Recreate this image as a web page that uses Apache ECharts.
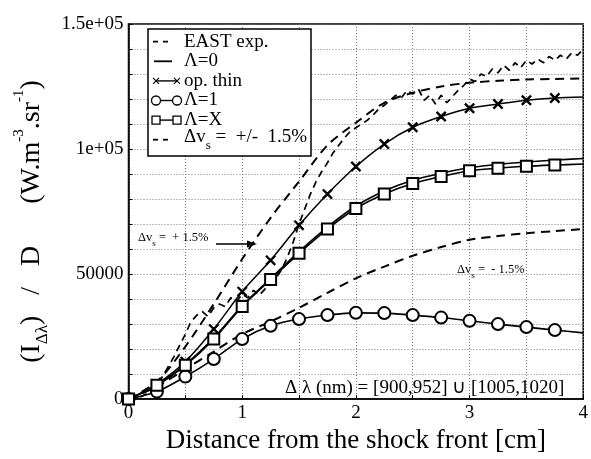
<!DOCTYPE html>
<html><head><meta charset="utf-8">
<script src="https://cdn.jsdelivr.net/npm/echarts@6/dist/echarts.min.js"></script>
<style>html,body{margin:0;padding:0;background:#fff}#c{width:591px;height:459px}</style>
</head><body><div id="c"></div>
<script>
// ---- data ----
const modelX   = [0,0.25,0.5,0.75,1,1.25,1.5,1.75,2,2.25,2.5,2.75,3,3.25,3.5,3.75,4];
const lambda0  = [0,5500,13800,24500,37300,48200,59000,68800,77200,83200,87500,90300,92500,93900,94800,95600,96200];
const opThin   = [0,6000,15000,28000,43000,55500,69500,82000,93000,102000,108700,113000,116300,118000,119500,120400,120800];
const lambda1  = [0,3000,9000,16000,24000,29300,32000,33600,34500,34400,33600,32600,31300,30000,28800,27600,26500];
const lambdaX  = [0,5500,13500,24000,37000,47800,58300,68000,76200,82000,86200,89000,91300,92300,93100,93600,94000];
const dvPlus   = [0,7000,21000,38000,56000,72500,87000,101500,110500,118500,122500,125000,126500,127300,127800,128000,128200];
const dvMinus  = [0,5000,12000,19000,26000,31000,36500,42500,48300,53000,57300,60800,63700,65200,66300,67200,68000];
const eastX = [0,0.1,0.2,0.3,0.4,0.5,0.55,0.6,0.65,0.7,0.75,0.8,0.85,0.9,0.95,1.0,1.05,1.1,1.15,1.2,1.25,1.3,1.35,1.4,1.45,1.5,1.55,1.6,1.65,1.7,1.75,1.8,1.85,1.9,1.95,2.0,2.05,2.1,2.15,2.2,2.25,2.3,2.35,2.4,2.45,2.5,2.55,2.6,2.65,2.7,2.75,2.8,2.85,2.9,2.95,3.0,3.05,3.1,3.15,3.2,3.25,3.3,3.35,3.4,3.45,3.5,3.55,3.6,3.65,3.7,3.75,3.8,3.85,3.9,3.95,4.0];
const eastY = [0,800,3000,9000,17000,26000,31000,33500,35000,33000,36500,38000,37000,40500,39000,42000,40500,43500,41500,44000,46500,48500,52000,57000,63000,70000,76000,82000,87000,91000,94500,98500,101500,104500,107000,108500,110000,111500,113500,116000,117500,119500,121500,120500,123500,122000,124000,119500,121500,118000,121500,118500,121000,123500,125500,128000,127000,130000,129000,132000,130500,133500,131500,134500,132500,135500,134000,136000,134500,137000,135500,137500,136000,138500,137500,140000];
const xTickLabels = {0:'0',1:'1',2:'2',3:'3',4:'4'};
const yTickLabels = {0:'0',50000:'50000',100000:'1e+05',150000:'1.5e+05'};

const SERIF = 'Liberation Serif';
const XSYM = 'path://M0,0.8L0.8,0L5,4.2L9.2,0L10,0.8L5.8,5L10,9.2L9.2,10L5,5.8L0.8,10L0,9.2L4.2,5Z';

function pts(xs, ys, lastNoSymbol) {
  return xs.map((x, i) => {
    const d = {value: [x, ys[i]]};
    if (lastNoSymbol && i === xs.length - 1) d.symbol = 'none';
    return d;
  });
}
const black = '#000';
function lineSeries(name, xs, ys, opts) {
  return {
    name, type: 'line', data: pts(xs, ys, opts.markers), smooth: opts.smooth === undefined ? 0.3 : opts.smooth,
    symbol: opts.symbol || 'none', symbolSize: opts.symbolSize || 0, showSymbol: !!opts.symbol,
    lineStyle: {color: black, width: opts.width || 1.6, type: opts.dash || 'solid'},
    itemStyle: {color: black, borderColor: black, borderWidth: 1.3},
    silent: true, animation: false, z: opts.z || 2
  };
}

const chart = echarts.init(document.getElementById('c'), null, {renderer: 'canvas'});

const sub = {fontFamily: SERIF, fontSize: 17, color: black, verticalAlign: 'bottom', padding: [0,0,1,0]};
const sup = {fontFamily: SERIF, fontSize: 15, color: black, verticalAlign: 'bottom', padding: [0,0,25,0]};
const main = {fontFamily: SERIF, fontSize: 28, color: black, verticalAlign: 'bottom', padding: [0,0,6,0]};

// legend (drawn as graphics)
const legendTop = 41.7, legendStep = 19.6, iconL = 153, iconR = 180, textX = 184;
const legendItems = [
  {label: 'EAST exp.', kind: 'dash'},
  {label: 'Λ=0', kind: 'solid'},
  {label: 'op. thin', kind: 'cross'},
  {label: 'Λ=1', kind: 'circle'},
  {label: 'Λ=X', kind: 'rect'},
  {label: '{a|Δv}{s|s}{a| =  +/-  1.5%}', kind: 'dash'}
];
const legendGraphics = [{type: 'rect', shape: {x: 148, y: 29, width: 163, height: 127}, style: {fill: '#fff', stroke: black, lineWidth: 1.5}, z: 100}];
legendItems.forEach((it, i) => {
  const y = legendTop + i * legendStep;
  if (it.kind === 'dash') {
    legendGraphics.push({type: 'line', shape: {x1: 153, y1: y, x2: 169, y2: y}, style: {stroke: black, lineWidth: 1.8, lineDash: [5, 5]}, z: 101});
  } else if (it.kind === 'solid') {
    legendGraphics.push({type: 'line', shape: {x1: 154, y1: y, x2: 172, y2: y}, style: {stroke: black, lineWidth: 1.8}, z: 101});
  } else {
    legendGraphics.push({type: 'line', shape: {x1: iconL + 3, y1: y, x2: iconR - 3, y2: y}, style: {stroke: black, lineWidth: 1.4}, z: 101});
    [iconL + 3, iconR - 3].forEach(cx => {
      if (it.kind === 'cross') {
        legendGraphics.push({type: 'line', shape: {x1: cx - 3, y1: y - 3, x2: cx + 3, y2: y + 3}, style: {stroke: black, lineWidth: 1.1}, z: 102});
        legendGraphics.push({type: 'line', shape: {x1: cx - 3, y1: y + 3, x2: cx + 3, y2: y - 3}, style: {stroke: black, lineWidth: 1.1}, z: 102});
      } else if (it.kind === 'circle') {
        legendGraphics.push({type: 'circle', shape: {cx, cy: y, r: 4.5}, style: {fill: '#fff', stroke: black, lineWidth: 1.3}, z: 102});
      } else {
        legendGraphics.push({type: 'rect', shape: {x: cx - 4, y: y - 4, width: 8, height: 8}, style: {fill: '#fff', stroke: black, lineWidth: 1.3}, z: 102});
      }
    });
  }
  legendGraphics.push({type: 'text', x: textX, y: y, z: 101, style: {
    text: it.label, fill: black, font: '19px ' + SERIF, fontFamily: SERIF, fontSize: 19, verticalAlign: 'middle', align: 'left',
    rich: {a: {fontFamily: SERIF, fontSize: 19, color: black, verticalAlign: 'bottom', padding: [0,0,5,0]},
           s: {fontFamily: SERIF, fontSize: 13, color: black, verticalAlign: 'bottom', padding: [0,0,0,0]}}
  }});
});

const annoRich = {
  a: {fontFamily: SERIF, fontSize: 12.5, color: black, verticalAlign: 'bottom', padding: [0,0,4,0]},
  s: {fontFamily: SERIF, fontSize: 9, color: black, verticalAlign: 'bottom', padding: [0,0,0,0]}
};
const annotations = [
  {type: 'text', x: 138, y: 240, z: 50, style: {text: '{a|Δv}{s|s}{a| =  + 1.5%}', rich: annoRich, verticalAlign: 'middle', align: 'left'}},
  {type: 'line', shape: {x1: 216, y1: 244, x2: 250, y2: 244}, style: {stroke: black, lineWidth: 1.5}, z: 50},
  {type: 'polygon', shape: {points: [[257, 244], [247, 240.5], [247, 247.5]]}, style: {fill: black}, z: 50},
  {type: 'text', x: 457, y: 272, z: 50, style: {text: '{a|Δv}{s|s}{a| =  - 1.5%}', rich: annoRich, verticalAlign: 'middle', align: 'left'}},
  {type: 'text', x: 285, y: 388, z: 50, style: {text: 'Δ λ (nm) = [900,952] ∪ [1005,1020]', fill: black, font: '19px ' + SERIF, fontFamily: SERIF, fontSize: 19, verticalAlign: 'middle', align: 'left'}}
];

const gridLine = {show: true, lineStyle: {color: '#777', width: 1, type: [1, 2]}};

chart.setOption({
  backgroundColor: '#fff',
  animation: false,
  grid: {left: 128.5, right: 4, top: 24, bottom: 45, show: true, borderColor: black, borderWidth: 1.5, backgroundColor: 'transparent'},
  xAxis: {
    type: 'value', min: 0, max: 4, interval: 0.5,
    axisLine: {show: true, onZero: false, lineStyle: {color: black, width: 1.5}},
    axisTick: {show: true, inside: true, length: 4, lineStyle: {color: black}},
    axisLabel: {color: black, fontFamily: SERIF, fontSize: 19, margin: 4,
      formatter: v => (xTickLabels[v] !== undefined ? xTickLabels[v] : '')},
    splitLine: gridLine,
    name: 'Distance from the shock front [cm]', nameLocation: 'middle', nameGap: 9,
    nameTextStyle: {color: black, fontFamily: SERIF, fontSize: 27, verticalAlign: 'top'}
  },
  yAxis: {
    type: 'value', min: 0, max: 150000, interval: 10000,
    axisLine: {show: true, onZero: false, lineStyle: {color: black, width: 1.5}},
    axisTick: {show: true, inside: true, length: 4, lineStyle: {color: black}},
    axisLabel: {color: black, fontFamily: SERIF, fontSize: 19, margin: 5,
      formatter: v => (yTickLabels[v] !== undefined ? yTickLabels[v] : '')},
    splitLine: gridLine,
    name: '{m|(I}{b|Δλ}{m|)   /   D      (W.m}{p|-3}{m|.sr}{p|-1}{m|)}',
    nameLocation: 'middle', nameRotate: 90, nameGap: 70,
    nameTextStyle: {color: black, fontFamily: SERIF, fontSize: 28, padding: [0, 20, 0, 0], rich: {m: main, b: sub, p: sup}}
  },
  series: [
    lineSeries('EAST exp.', eastX, eastY, {smooth: false, dash: [7, 5], width: 1.7}),
    lineSeries('Λ=0', modelX, lambda0, {}),
    lineSeries('op. thin', modelX, opThin, {symbol: XSYM, symbolSize: 9, markers: true, width: 1.5}),
    lineSeries('Λ=1', modelX, lambda1, {symbol: 'emptyCircle', symbolSize: 12, markers: true}),
    lineSeries('Λ=X', modelX, lambdaX, {symbol: 'emptyRect', symbolSize: 11, markers: true}),
    lineSeries('Δvs = +1.5%', modelX, dvPlus, {dash: [9, 6], width: 2}),
    lineSeries('Δvs = -1.5%', modelX, dvMinus, {dash: [9, 6], width: 2})
  ],
  graphic: annotations.concat(legendGraphics)
});
</script>
</body></html>
